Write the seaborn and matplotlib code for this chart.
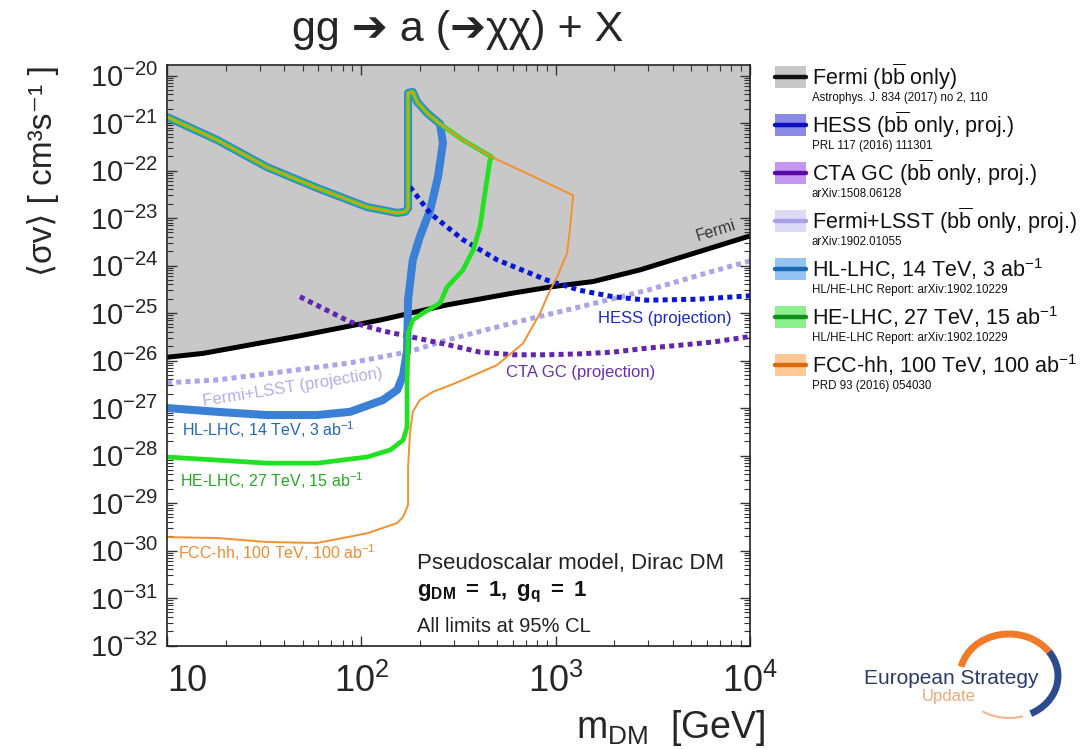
import numpy as np
import pandas as pd
import matplotlib
matplotlib.use("Agg")
import matplotlib.pyplot as plt
import seaborn as sns
from matplotlib.ticker import LogLocator, FixedLocator, FuncFormatter, NullFormatter
from matplotlib.patches import Rectangle, Arc
from matplotlib.lines import Line2D

# ------------------------------------------------------------------ data
# Fermi (bb only) limit
fermi_m = [10, 15.3, 48.3, 125, 276, 604, 970, 1560, 2720, 5350, 10000]
fermi_sv = [1.17e-26, 1.41e-26, 3.31e-26, 7.1e-26, 1.48e-25, 2.63e-25,
            3.6e-25, 4.6e-25, 8.1e-25, 1.9e-24, 4.2e-24]
# HESS projection
hess_m = [178, 226, 333, 499, 904, 1337, 1972, 2951, 5350, 10000]
hess_sv = [4.5e-23, 1.26e-23, 3.5e-24, 1.32e-24, 4.9e-25, 3.0e-25,
           2.2e-25, 1.86e-25, 1.95e-25, 2.3e-25]
# CTA GC projection
cta_m = [48.3, 87.5, 129, 194, 286, 408, 604, 904, 1337, 1972, 2951, 4365, 6457, 10000]
cta_sv = [2.2e-25, 6.5e-26, 4.2e-26, 2.95e-26, 2.1e-26, 1.5e-26, 1.32e-26,
          1.32e-26, 1.38e-26, 1.5e-26, 1.82e-26, 2.1e-26, 2.45e-26, 3.2e-26]
# Fermi+LSST projection
lsst_m = [10, 18.1, 39.5, 87.5, 178, 276, 604, 1337, 2951, 6457, 10000]
lsst_sv = [3.4e-27, 3.9e-27, 5.8e-27, 8.9e-27, 1.55e-26, 2.7e-26, 6.2e-26,
           1.35e-25, 3.0e-25, 7.6e-25, 1.25e-24]
# common upper (perturbativity) branch shared by the collider contours,
# ordered from high mass back to 10 GeV
upper_m = [1230, 738, 471, 333, 254, 218, 194, 184, 174, 174, 168, 153,
           107, 59.2, 32.7, 18.1, 10]
upper_sv = [3.0e-23, 8.1e-23, 1.9e-22, 4.4e-22, 9.6e-22, 1.62e-21, 2.75e-21,
            4.5e-21, 4.3e-21, 1.62e-23, 1.35e-23, 1.28e-23, 1.7e-23, 4.3e-23,
            1.18e-22, 4.4e-22, 1.34e-21]
# HL-LHC lower branch (joins upper branch at 254 GeV)
hl_m = [10, 18.1, 32.7, 59.2, 87.5, 129, 153, 164, 172, 174, 184, 200, 226, 248, 263]
hl_sv = [1.0e-27, 8.3e-28, 7.1e-28, 7.1e-28, 8.3e-28, 1.47e-27, 2.4e-27,
         4.9e-27, 1.66e-26, 1.88e-25, 1.31e-24, 4.0e-24, 1.47e-23, 7.3e-23, 3.8e-22]
hl_join = 4
# HE-LHC lower branch (joins upper branch at 471 GeV)
he_m = [10, 18.1, 32.7, 59.2, 107, 141, 164, 172, 172, 174, 184, 208, 254,
        276, 333, 376, 408, 433, 459]
he_sv = [9.3e-29, 8.0e-29, 6.9e-29, 6.9e-29, 9.3e-29, 1.31e-28, 2.1e-28,
         4.0e-28, 3.4e-27, 3.8e-26, 7.1e-26, 1.0e-25, 1.62e-25, 3.5e-25,
         8.0e-25, 2.1e-24, 6.5e-24, 3.4e-23, 1.65e-22]
he_join = 2
# FCC-hh lower branch (joins upper branch at 1230 GeV)
fcc_m = [10, 18.1, 32.7, 59.2, 107, 153, 164, 174, 174, 178, 184, 200, 234,
         286, 333, 499, 680, 832, 935, 1017, 1145, 1187]
fcc_sv = [1.91e-30, 1.83e-30, 1.51e-30, 1.44e-30, 2.3e-30, 3.8e-30, 5.1e-30,
          9.1e-30, 5.7e-29, 3.0e-28, 8.3e-28, 1.47e-27, 2.2e-27, 3.0e-27,
          3.9e-27, 8.0e-27, 2.3e-26, 1.0e-25, 3.0e-25, 5.7e-25, 1.83e-24, 6.5e-24]
fcc_join = 0

x_ticks = [10, 100, 1000, 10000]
y_ticks = [10.0 ** e for e in range(-32, -19)]

legend_labels = [r"Fermi (b$\overline{\rm b}$ only)",
                 r"HESS (b$\overline{\rm b}$ only, proj.)",
                 r"CTA GC (b$\overline{\rm b}$ only, proj.)",
                 r"Fermi+LSST (b$\overline{\rm b}$ only, proj.)",
                 r"HL-LHC, 14 TeV, 3 ab$^{-1}$",
                 r"HE-LHC, 27 TeV, 15 ab$^{-1}$",
                 r"FCC-hh, 100 TeV, 100 ab$^{-1}$"]
legend_refs = ["Astrophys. J. 834 (2017) no 2, 110",
               "PRL 117 (2016) 111301",
               "arXiv:1508.06128",
               "arXiv:1902.01055",
               "HL/HE-LHC Report: arXiv:1902.10229",
               "HL/HE-LHC Report: arXiv:1902.10229",
               "PRD 93 (2016) 054030"]
legend_box = ['#c8c8c8', '#8a8ae4', '#c596f2', '#dddaf8', '#94c4f2', '#8cf08c', '#ffc894']
legend_line = ['#111111', '#0a10c0', '#5c0aa6', '#a8a0e8', '#1a6ab8', '#10901a', '#d86a10']

# ------------------------------------------------------------------ style
sns.set_style("ticks")
plt.rcParams['font.family'] = ['Liberation Sans', 'DejaVu Sans']
plt.rcParams['mathtext.fontset'] = 'custom'
plt.rcParams['mathtext.rm'] = 'Liberation Sans'
plt.rcParams['mathtext.it'] = 'Liberation Sans:italic'
plt.rcParams['mathtext.bf'] = 'Liberation Sans:bold'

W, H = 1086, 749
fig = plt.figure(figsize=(W / 100, H / 100), dpi=100)
fig.patch.set_facecolor('white')
AX_L, AX_R, AX_T, AX_B = 167, 750, 65, 645.5
ax = fig.add_axes([AX_L / W, 1 - AX_B / H, (AX_R - AX_L) / W, (AX_B - AX_T) / H])
ax.set_facecolor('white')

ytop = 10 ** (-32 + (AX_B - AX_T) / 47.5)


def df_of(m, sv):
    return pd.DataFrame({'m': np.asarray(m, float), 'sv': np.asarray(sv, float)})


def contour(lo_m, lo_sv, join):
    return df_of(list(lo_m) + upper_m[join:], list(lo_sv) + upper_sv[join:])


# excluded region above Fermi
ax.fill_between(fermi_m, fermi_sv, ytop, color='#c8c8c8', lw=0, zorder=0)

common = dict(x='m', y='sv', sort=False, estimator=None, ax=ax, legend=False)
dot = (0, (1.0, 0.85))
sns.lineplot(data=df_of(fermi_m, fermi_sv), color='black', lw=3.6,
             solid_capstyle='butt', **common)
sns.lineplot(data=df_of(lsst_m, lsst_sv), color='#aaa4e8', lw=3.6,
             linestyle=dot, dash_capstyle='butt', **common)
sns.lineplot(data=df_of(cta_m, cta_sv), color='#6424ae', lw=3.6,
             linestyle=dot, dash_capstyle='butt', **common)
sns.lineplot(data=contour(hl_m, hl_sv, hl_join), color='#3a80d6', lw=5.8,
             solid_joinstyle='round', **common)
sns.lineplot(data=df_of(hess_m, hess_sv), color='#0a18d4', lw=3.6,
             linestyle=dot, dash_capstyle='butt', **common)
sns.lineplot(data=contour(he_m, he_sv, he_join), color='#22e022', lw=3.4,
             solid_joinstyle='round', **common)
sns.lineplot(data=contour(fcc_m, fcc_sv, fcc_join), color='#f5902a', lw=1.4,
             solid_joinstyle='round', **common)

ax.set_xscale('log')
ax.set_yscale('log')
ax.set_xlim(10, 1e4)
ax.set_ylim(1e-32, ytop)

ax.xaxis.set_major_locator(FixedLocator(x_ticks))
ax.yaxis.set_major_locator(FixedLocator(y_ticks))
ax.xaxis.set_minor_locator(LogLocator(base=10, subs=np.arange(2, 10), numticks=50))
ax.yaxis.set_minor_locator(LogLocator(base=10, subs=np.arange(2, 10), numticks=200))
ax.xaxis.set_minor_formatter(NullFormatter())
ax.yaxis.set_minor_formatter(NullFormatter())
ax.xaxis.set_major_formatter(FuncFormatter(
    lambda v, p: "10" if abs(v - 10) < 1e-6 else r"$10^{%d}$" % round(np.log10(v))))
ax.yaxis.set_major_formatter(FuncFormatter(
    lambda v, p: r"$10^{%d}$" % round(np.log10(v))))

ax.tick_params(which='both', direction='in', top=True, right=True, color='#333333')
ax.tick_params(which='major', length=7, width=1.0)
ax.tick_params(which='minor', length=4, width=0.8)
ax.tick_params(axis='x', which='major', labelsize=26, pad=13)
ax.tick_params(axis='y', which='major', labelsize=21, pad=6)
for s in ax.spines.values():
    s.set_linewidth(1.2)
    s.set_color('#222222')

ax.set_xlabel(r"m$_{\rm DM}$  [GeV]", fontsize=27, loc='right')
ax.xaxis.set_label_coords(1.026, -0.108)
ax.set_ylabel("⟨σv⟩ [ cm³s⁻¹ ]", fontsize=24, loc='top')
ax.yaxis.set_label_coords(-0.186, 1.0)

# ------------------------------------------------------------------ annotations
def axf(px, py):
    return ((px - AX_L) / (AX_R - AX_L), (AX_B - py) / (AX_B - AX_T))


ax.text(*axf(716, 231), "Fermi", rotation=17, color='#333333', fontsize=11.5,
        ha='center', va='center', transform=ax.transAxes)
ax.text(*axf(665, 319), "HESS (projection)", color='#1a28cc', fontsize=12,
        ha='center', va='center', transform=ax.transAxes)
ax.text(*axf(581, 373), "CTA GC (projection)", color='#6a2fb0', fontsize=12,
        ha='center', va='center', transform=ax.transAxes)
ax.text(*axf(293, 387), "Fermi+LSST (projection)", color='#b4aee8', fontsize=12,
        rotation=9, ha='center', va='center', transform=ax.transAxes)
ax.text(*axf(182, 430), r"HL-LHC, 14 TeV, 3 ab$^{-1}$", color='#2266bb', fontsize=11.5,
        ha='left', va='center', transform=ax.transAxes)
ax.text(*axf(180, 481), r"HE-LHC, 27 TeV, 15 ab$^{-1}$", color='#22aa22', fontsize=11.5,
        ha='left', va='center', transform=ax.transAxes)
ax.text(*axf(178, 553), r"FCC-hh, 100 TeV, 100 ab$^{-1}$", color='#f08a30', fontsize=11.5,
        ha='left', va='center', transform=ax.transAxes)
ax.text(*axf(417, 564), "Pseudoscalar model, Dirac DM", color='#222222', fontsize=16,
        ha='left', va='center', transform=ax.transAxes)
ax.text(*axf(417, 592), r"$\mathbf{g}_{\mathbf{DM}}\mathbf{\ =\ 1,\ g}_{\mathbf{q}}\mathbf{\ =\ 1}$",
        color='#111111', fontsize=16, ha='left', va='center', transform=ax.transAxes)
ax.text(*axf(417, 626), "All limits at 95% CL", color='#222222', fontsize=14.5,
        ha='left', va='center', transform=ax.transAxes)

# title
fig.text(458 / W, 1 - 30 / H, "gg ➔ a (➔χχ) + X", fontsize=31, ha='center', va='center')

# ------------------------------------------------------------------ overlay (legend + logo) in pixel coords
ov = fig.add_axes([0, 0, 1, 1], zorder=5)
ov.set_xlim(0, W)
ov.set_ylim(H, 0)
ov.axis('off')

y0, dy = 77, 48
for i, (lab, ref, bc, lc) in enumerate(zip(legend_labels, legend_refs, legend_box, legend_line)):
    yc = y0 + i * dy
    ov.add_patch(Rectangle((775, yc - 11), 31, 22, facecolor=bc, edgecolor='none'))
    ov.add_line(Line2D([775, 806], [yc, yc], color=lc, lw=3.2))
    ov.text(812, yc, lab, fontsize=15.5, ha='left', va='center', color='#111111')
    ov.text(812, yc + 21, ref, fontsize=8.3, ha='left', va='center', color='#111111')

# logo
ov.add_patch(Arc((1009, 676), 98, 84, theta1=-169, theta2=-29, color='#f07a28', lw=5))
ov.add_patch(Arc((1009, 676), 98, 84, theta1=-31, theta2=60, color='#2c4a8e', lw=5))
ov.add_patch(Arc((1009, 676), 98, 84, theta1=71, theta2=127, color='#f6b48e', lw=1.5))
ov.text(951, 678, "European Strategy", fontsize=15, color='#2b3a6b', ha='center', va='center')
ov.text(949, 696, "Update", fontsize=12, color='#f2a878', ha='center', va='center')

fig.canvas.draw()
for lbl in ax.get_xticklabels():
    if lbl.get_text() == "10":
        lbl.set_horizontalalignment('left')

fig.savefig("out.png", dpi=100, facecolor='white')
